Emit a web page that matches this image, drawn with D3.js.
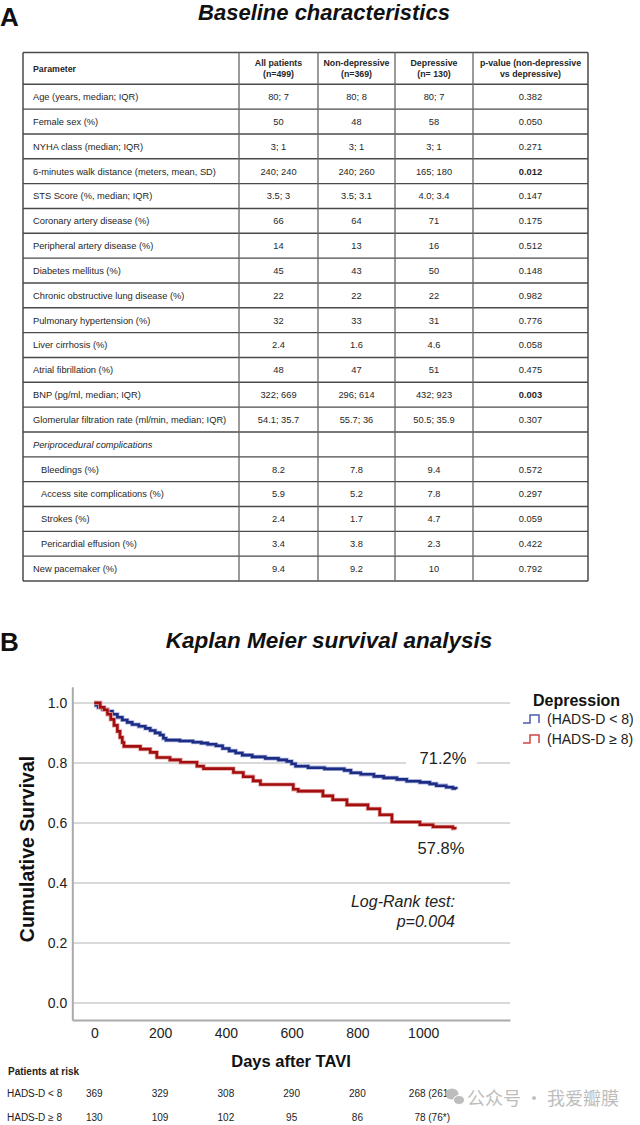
<!DOCTYPE html>
<html><head><meta charset="utf-8">
<script src="https://cdn.jsdelivr.net/npm/d3@7/dist/d3.min.js"></script>
<style>
html,body{margin:0;padding:0;background:#fff;}
svg{display:block;font-family:"Liberation Sans",Arial,sans-serif;}
</style></head><body>
<svg id="c" width="640" height="1125"></svg>
<script>
// ---------------- DATA ----------------
const tableHeaders = [["Parameter"], ["All patients", "(n=499)"], ["Non-depressive", "(n=369)"], ["Depressive", "(n= 130)"], ["p-value (non-depressive", "vs depressive)"]];
const parameters = ["Age (years, median; IQR)", "Female sex (%)", "NYHA class (median; IQR)", "6-minutes walk distance (meters, mean, SD)", "STS Score (%, median; IQR)", "Coronary artery disease (%)", "Peripheral artery disease (%)", "Diabetes mellitus (%)", "Chronic obstructive lung disease (%)", "Pulmonary hypertension (%)", "Liver cirrhosis (%)", "Atrial fibrillation (%)", "BNP (pg/ml, median; IQR)", "Glomerular filtration rate (ml/min, median; IQR)", "Periprocedural complications", "Bleedings (%)", "Access site complications (%)", "Strokes (%)", "Pericardial effusion (%)", "New pacemaker (%)"];
const allPatients = ["80; 7", "50", "3; 1", "240; 240", "3.5; 3", "66", "14", "45", "22", "32", "2.4", "48", "322; 669", "54.1; 35.7", "", "8.2", "5.9", "2.4", "3.4", "9.4"];
const nonDepressive = ["80; 8", "48", "3; 1", "240; 260", "3.5; 3.1", "64", "13", "43", "22", "33", "1.6", "47", "296; 614", "55.7; 36", "", "7.8", "5.2", "1.7", "3.8", "9.2"];
const depressive = ["80; 7", "58", "3; 1", "165; 180", "4.0; 3.4", "71", "16", "50", "22", "31", "4.6", "51", "432; 923", "50.5; 35.9", "", "9.4", "7.8", "4.7", "2.3", "10"];
const pValues = ["0.382", "0.050", "0.271", "0.012", "0.147", "0.175", "0.512", "0.148", "0.982", "0.776", "0.058", "0.475", "0.003", "0.307", "", "0.572", "0.297", "0.059", "0.422", "0.792"];
const sectionRows = ["Periprocedural complications"];
const indentedRows = ["Bleedings (%)", "Access site complications (%)", "Strokes (%)", "Pericardial effusion (%)"];

// Kaplan-Meier step data: [day, cumulative survival]
const kmLow = [[0,1.0],[5,0.992],[12,0.985],[25,0.978],[40,0.972],[55,0.962],[70,0.952],[85,0.943],[100,0.935],[115,0.928],[135,0.922],[155,0.915],[170,0.908],[185,0.9],[200,0.893],[210,0.882],[218,0.876],[260,0.873],[300,0.869],[325,0.866],[345,0.862],[370,0.857],[390,0.848],[410,0.84],[430,0.833],[450,0.826],[480,0.82],[520,0.815],[560,0.81],[585,0.805],[600,0.797],[612,0.789],[650,0.784],[700,0.78],[760,0.775],[780,0.767],[810,0.762],[850,0.755],[880,0.75],[920,0.745],[950,0.739],[990,0.735],[1020,0.73],[1040,0.724],[1070,0.719],[1090,0.715],[1100,0.712]];
const kmHigh = [[0,1.0],[18,0.985],[30,0.977],[40,0.962],[50,0.945],[60,0.925],[70,0.905],[78,0.885],[85,0.868],[90,0.855],[140,0.846],[170,0.835],[190,0.818],[230,0.81],[262,0.802],[312,0.789],[332,0.781],[423,0.768],[453,0.754],[483,0.74],[505,0.728],[605,0.712],[620,0.706],[695,0.69],[725,0.677],[768,0.66],[832,0.647],[868,0.627],[905,0.603],[990,0.594],[1030,0.587],[1090,0.582],[1097,0.578]];
const seriesNames = ["(HADS-D < 8)", "(HADS-D \u2265 8)"];
const finalLabels = ["71.2%", "57.8%"];
const yTicks = [0, 0.2, 0.4, 0.6, 0.8, 1.0];
const xTicks = [0, 200, 400, 600, 800, 1000];
const riskGroups = ["HADS-D < 8", "HADS-D \u2265 8"];
const riskLow = ["369", "329", "308", "290", "280", "268 (261*)"];
const riskHigh = ["130", "109", "102", "95", "86", "78 (76*)"];

// ---------------- DRAW ----------------
const svg = d3.select("#c");
const textCol = "#262626";

// Panel A
svg.append("text").attr("x", 0).attr("y", 26).attr("font-size", 26).attr("font-weight", "bold").attr("fill", "#111").text("A");
svg.append("text").attr("x", 324).attr("y", 20).attr("text-anchor", "middle").attr("font-size", 22).attr("font-weight", "bold").attr("font-style", "italic").attr("fill", "#111").text("Baseline characteristics");

const colEdges = [23, 239, 318, 395, 473, 588];
const tableTop = 52.5, headBottom = 84.3, tableBottom = 581;
const rowScale = d3.scaleBand().domain(d3.range(parameters.length)).range([headBottom, tableBottom]);
const tg = svg.append("g");

// row lines
const rowLines = [tableTop, headBottom].concat(d3.range(parameters.length).map(i => rowScale(i) + rowScale.bandwidth()));
tg.selectAll("line.h").data(rowLines).join("line")
  .attr("x1", colEdges[0]).attr("x2", colEdges[5]).attr("y1", d => d).attr("y2", d => d)
  .attr("stroke", "#4a4a4a").attr("stroke-width", 1.4);
tg.selectAll("line.v").data(colEdges).join("line")
  .attr("x1", d => d).attr("x2", d => d).attr("y1", tableTop).attr("y2", tableBottom)
  .attr("stroke", (d, i) => (i === 0 || i === 5) ? "#4a4a4a" : "#666").attr("stroke-width", (d, i) => (i === 0 || i === 5) ? 1.5 : 1.3);

// header
tableHeaders.forEach((lines, c) => {
  const cx = c === 0 ? 33 : (colEdges[c] + colEdges[c + 1]) / 2;
  const midY = (tableTop + headBottom) / 2;
  lines.forEach((t, k) => {
    const yy = midY + 3.3 + (k - (lines.length - 1) / 2) * 10.5;
    tg.append("text").attr("x", cx).attr("y", yy).attr("text-anchor", c === 0 ? "start" : "middle")
      .attr("font-size", 8.8).attr("font-weight", "bold").attr("fill", textCol).text(t);
  });
});

// body rows
const cols = [allPatients, nonDepressive, depressive, pValues];
parameters.forEach((p, i) => {
  const cy = rowScale(i) + rowScale.bandwidth() / 2 + 3.3;
  const isSection = sectionRows.includes(p);
  const isIndent = indentedRows.includes(p);
  tg.append("text").attr("x", isIndent ? 41 : 33).attr("y", cy)
    .attr("font-size", 9.3).attr("font-style", isSection ? "italic" : "normal").attr("fill", textCol).text(p);
  cols.forEach((arr, c) => {
    const v = arr[i];
    if (!v) return;
    const bold = c === 3 && +v < 0.05;
    tg.append("text").attr("x", (colEdges[c + 1] + colEdges[c + 2]) / 2).attr("y", cy).attr("text-anchor", "middle")
      .attr("font-size", 9.3).attr("font-weight", bold ? "bold" : "normal").attr("fill", textCol).text(v);
  });
});

// Panel B
svg.append("text").attr("x", 0).attr("y", 651).attr("font-size", 26).attr("font-weight", "bold").attr("fill", "#111").text("B");
svg.append("text").attr("x", 329).attr("y", 648).attr("text-anchor", "middle").attr("font-size", 22.5).attr("font-weight", "bold").attr("font-style", "italic").attr("fill", "#111").text("Kaplan Meier survival analysis");

const x = d3.scaleLinear().domain([-67, 1264]).range([72.3, 510]);
const y = d3.scaleLinear().domain([-0.057, 1.054]).range([1020, 686.7]);

// gridlines
svg.append("g").selectAll("line").data(yTicks).join("line")
  .attr("x1", x.range()[0]).attr("x2", x.range()[1]).attr("y1", d => y(d)).attr("y2", d => y(d))
  .attr("stroke", "#d9d9d9").attr("stroke-width", 2);

// axes
const yAxis = svg.append("g").attr("transform", `translate(${x.range()[0]},0)`)
  .call(d3.axisLeft(y).tickValues(yTicks).tickFormat(d3.format(".1f")).tickSize(0).tickPadding(5));
yAxis.select(".domain").attr("stroke", "#aaa").attr("stroke-width", 2);
yAxis.selectAll("text").attr("font-size", 14).attr("fill", "#222").attr("font-family", "Liberation Sans, Arial, sans-serif");

const xAxis = svg.append("g").attr("transform", `translate(0,${y.range()[0]})`)
  .call(d3.axisBottom(x).tickValues(xTicks).tickFormat(d3.format("d")).tickSize(0).tickPadding(8));
xAxis.select(".domain").attr("stroke", "#aaa").attr("stroke-width", 2);
xAxis.selectAll("text").attr("font-size", 14).attr("fill", "#222").attr("font-family", "Liberation Sans, Arial, sans-serif");

svg.append("text").attr("x", 291).attr("y", 1067).attr("text-anchor", "middle").attr("font-size", 16.5).attr("font-weight", "bold").attr("fill", "#111").text("Days after TAVI");
svg.append("text").attr("transform", "translate(34,849) rotate(-90)").attr("text-anchor", "middle").attr("font-size", 19.5).attr("font-weight", "bold").attr("fill", "#111").text("Cumulative Survival");

// curves
const line = d3.line().x(d => x(d[0])).y(d => y(d[1])).curve(d3.curveStepAfter);
const curveCols = [["#1d2c84", "#aab4dc"], ["#a30f0f", "#e3a6a6"]];
[kmLow, kmHigh].forEach((data, i) => {
  svg.append("path").datum(data).attr("d", line).attr("fill", "none").attr("stroke", curveCols[i][1]).attr("stroke-width", 4.2);
  svg.append("path").datum(data).attr("d", line).attr("fill", "none").attr("stroke", curveCols[i][0]).attr("stroke-width", 2.6);
});

// end labels
svg.append("rect").attr("x", 406).attr("y", 752).attr("width", 71).attr("height", 22).attr("fill", "#fff");
svg.append("text").attr("x", 443).attr("y", 764).attr("text-anchor", "middle").attr("font-size", 16.5).attr("fill", "#222").text(finalLabels[0]);
svg.append("text").attr("x", 441).attr("y", 854).attr("text-anchor", "middle").attr("font-size", 16.5).attr("fill", "#222").text(finalLabels[1]);

// log rank
svg.append("text").attr("x", 455).attr("y", 907).attr("text-anchor", "end").attr("font-size", 16).attr("font-style", "italic").attr("fill", "#222").text("Log-Rank test:");
svg.append("text").attr("x", 455).attr("y", 927).attr("text-anchor", "end").attr("font-size", 16).attr("font-style", "italic").attr("fill", "#222").text("p=0.004");

// legend
svg.append("text").attr("x", 533).attr("y", 706).attr("font-size", 16).attr("font-weight", "bold").attr("fill", "#111").text("Depression");
const legCols = ["#4a5cae", "#d04545"];
seriesNames.forEach((s, i) => {
  const ly = 719 + i * 20;
  svg.append("path").attr("d", `M523,${ly + 4} H530 V${ly - 4} H539 V${ly + 4}`).attr("fill", "none").attr("stroke", legCols[i]).attr("stroke-width", 1.5);
  svg.append("text").attr("x", 547).attr("y", ly + 5).attr("font-size", 14).attr("fill", "#222").text(s);
});

// patients at risk
svg.append("text").attr("x", 8).attr("y", 1075).attr("font-size", 10).attr("font-weight", "bold").attr("fill", "#222").text("Patients at risk");
[riskLow, riskHigh].forEach((arr, r) => {
  const ry = 1097 + r * 24;
  svg.append("text").attr("x", 7).attr("y", ry).attr("font-size", 10).attr("fill", "#222").text(riskGroups[r]);
  arr.forEach((v, k) => {
    const last = k === arr.length - 1;
    svg.append("text").attr("x", x(xTicks[k]) + (last ? 9 : 0)).attr("y", ry).attr("text-anchor", "middle")
      .attr("font-size", 10).attr("fill", "#222").text(v);
  });
});

// watermark
const wm = svg.append("g").attr("fill", "#bdbdbd");
wm.append("ellipse").attr("cx", 452).attr("cy", 1094).attr("rx", 6.5).attr("ry", 5.5);
wm.append("ellipse").attr("cx", 459).attr("cy", 1100).attr("rx", 5.5).attr("ry", 4.5).attr("stroke", "#fff").attr("stroke-width", 1);
wm.append("text").attr("x", 467).attr("y", 1105).attr("font-size", 18).attr("font-family", "Noto Sans CJK SC, sans-serif").text("公众号 · 我爱瓣膜");
</script>
</body></html>
